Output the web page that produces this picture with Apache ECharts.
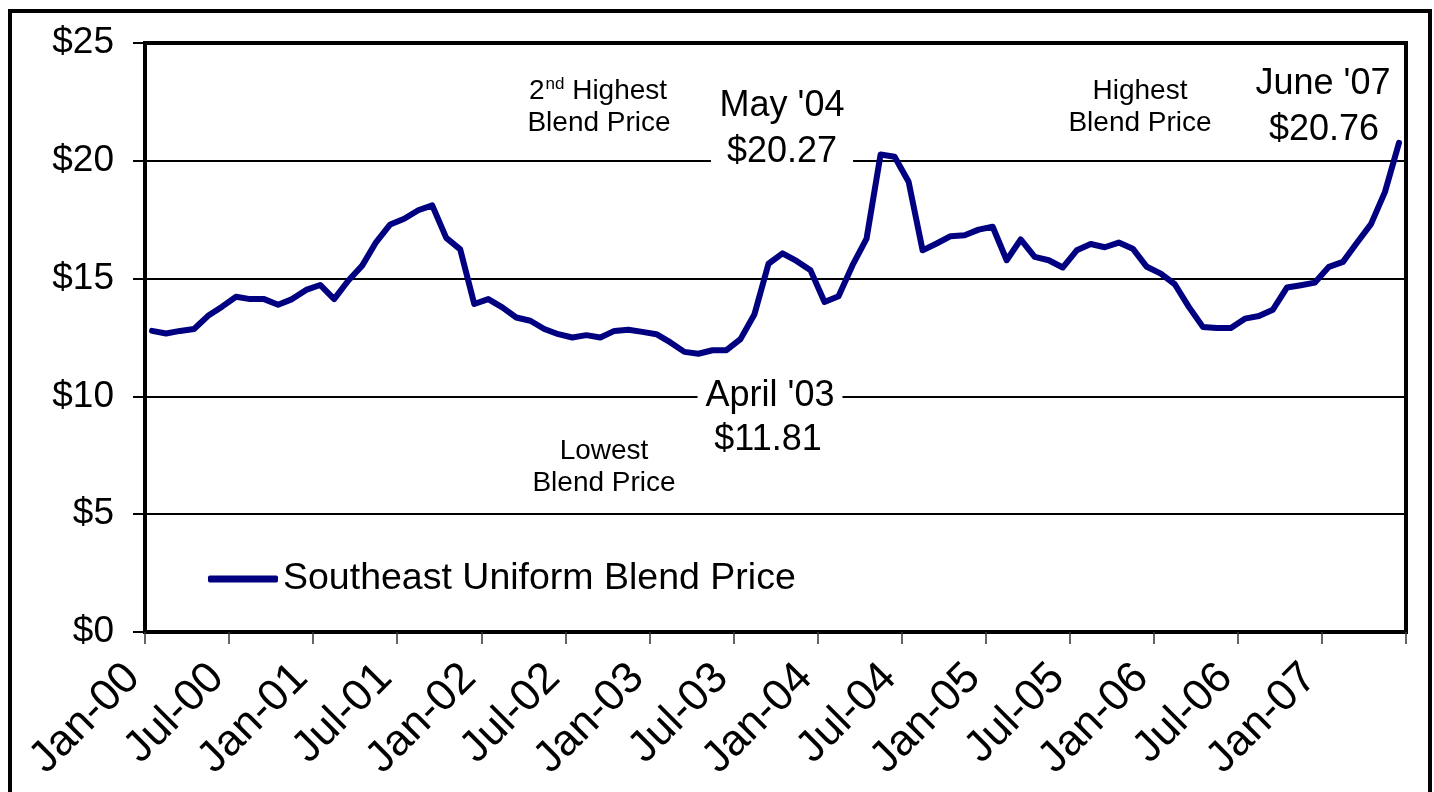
<!DOCTYPE html>
<html>
<head>
<meta charset="utf-8">
<script src="https://cdn.jsdelivr.net/npm/echarts@6/dist/echarts.min.js"></script>
<style>
html,body{margin:0;padding:0;background:#fff;}
#chart{width:1434px;height:792px;}
</style>
</head>
<body>
<div id="chart"></div>
<script>
// ---- data ----
const months = [
 "Jan-00","Feb-00","Mar-00","Apr-00","May-00","Jun-00","Jul-00","Aug-00","Sep-00","Oct-00","Nov-00","Dec-00",
 "Jan-01","Feb-01","Mar-01","Apr-01","May-01","Jun-01","Jul-01","Aug-01","Sep-01","Oct-01","Nov-01","Dec-01",
 "Jan-02","Feb-02","Mar-02","Apr-02","May-02","Jun-02","Jul-02","Aug-02","Sep-02","Oct-02","Nov-02","Dec-02",
 "Jan-03","Feb-03","Mar-03","Apr-03","May-03","Jun-03","Jul-03","Aug-03","Sep-03","Oct-03","Nov-03","Dec-03",
 "Jan-04","Feb-04","Mar-04","Apr-04","May-04","Jun-04","Jul-04","Aug-04","Sep-04","Oct-04","Nov-04","Dec-04",
 "Jan-05","Feb-05","Mar-05","Apr-05","May-05","Jun-05","Jul-05","Aug-05","Sep-05","Oct-05","Nov-05","Dec-05",
 "Jan-06","Feb-06","Mar-06","Apr-06","May-06","Jun-06","Jul-06","Aug-06","Sep-06","Oct-06","Nov-06","Dec-06",
 "Jan-07","Feb-07","Mar-07","Apr-07","May-07","Jun-07"
];
const blendPrice = [
 12.78,12.67,12.78,12.86,13.42,13.81,14.23,14.13,14.13,13.89,14.13,14.52,
 14.73,14.13,14.91,15.55,16.55,17.30,17.54,17.90,18.11,16.73,16.24,13.92,
 14.13,13.78,13.35,13.21,12.86,12.64,12.50,12.60,12.50,12.78,12.83,12.74,
 12.64,12.29,11.89,11.81,11.96,11.96,12.43,13.49,15.63,16.07,15.75,15.35,
 14.01,14.25,15.57,16.70,20.27,20.17,19.11,16.20,16.49,16.80,16.84,17.08,
 17.20,15.78,16.66,15.92,15.78,15.47,16.20,16.47,16.33,16.53,16.27,15.50,
 15.21,14.76,13.80,12.95,12.90,12.90,13.30,13.41,13.68,14.62,14.72,14.83,
 15.50,15.71,16.52,17.31,18.68,20.76
];
const seriesName = "Southeast Uniform Blend Price";
const yTicks = [0,5,10,15,20,25];
const noteSecondHighest = ["2", "nd", " Highest", "Blend Price"];
const noteMay04 = ["May '04", "$20.27"];
const noteHighest = ["Highest", "Blend Price"];
const noteJune07 = ["June '07", "$20.76"];
const noteApril03 = ["April '03", "$11.81"];
const noteLowest = ["Lowest", "Blend Price"];

// ---- chart ----
const FONT = 'Arial, "Liberation Sans", sans-serif';
const chart = echarts.init(document.getElementById('chart'), null, {renderer:'canvas'});

function txt(x, y, text, size, opts) {
  return Object.assign({
    type: 'text', z: 100,
    style: Object.assign({
      x: x, y: y, text: text, fill: '#000',
      font: size + 'px ' + FONT,
      textAlign: 'center', textVerticalAlign: 'middle'
    }, (opts && opts.style) || {})
  }, (opts && opts.el) || {});
}

const option = {
  backgroundColor: '#fff',
  animation: false,
  grid: {
    left: 145, right: 28, top: 43, bottom: 160,
    show: true, borderColor: '#000', borderWidth: 4, backgroundColor: 'transparent'
  },
  legend: {
    show: true,
    left: 208, top: 560,
    padding: 0,
    icon: 'roundRect',
    itemWidth: 70, itemHeight: 7,
    itemGap: 5,
    textStyle: { fontSize: 37.5, color: '#000', fontFamily: FONT },
    data: [seriesName]
  },
  xAxis: {
    type: 'category',
    data: months,
    boundaryGap: true,
    axisLine: { lineStyle: { color: '#000', width: 4 } },
    axisTick: { show: true, interval: 5, length: 12, lineStyle: { color: '#333', width: 1.5 } },
    axisLabel: {
      interval: 5, rotate: 45, margin: 20,
      padding: [0, 27, 0, 0],
      fontSize: 44, color: '#000', fontFamily: FONT
    },
    splitLine: { show: false }
  },
  yAxis: {
    type: 'value',
    min: yTicks[0], max: yTicks[yTicks.length - 1], interval: 5,
    axisLine: { show: true, lineStyle: { color: '#000', width: 4 } },
    axisTick: { show: true, length: 12, lineStyle: { color: '#000', width: 2 } },
    axisLabel: {
      margin: 31, fontSize: 37, color: '#000', fontFamily: FONT,
      formatter: v => '$' + v
    },
    splitLine: { show: true, lineStyle: { color: '#000', width: 2 } }
  },
  series: [{
    name: seriesName,
    type: 'line',
    data: blendPrice,
    symbol: 'none',
    smooth: false,
    lineStyle: { color: '#000080', width: 6, cap: 'round', join: 'round' },
    itemStyle: { color: '#000080' },
    z: 5
  }],
  graphic: [
    // outer frame
    { type: 'rect', z: 1, shape: { x: 10, y: 11, width: 1420, height: 800 },
      style: { fill: 'none', stroke: '#000', lineWidth: 4 } },
    // 2nd Highest Blend Price
    { type: 'text', z: 100, style: {
        x: 598, y: 91, fill: '#000', textAlign: 'center', textVerticalAlign: 'middle',
        text: '{a|' + noteSecondHighest[0] + '}{s|' + noteSecondHighest[1] + '}{a|' + noteSecondHighest[2] + '}',
        rich: {
          a: { fontSize: 28, fontFamily: FONT, fill: '#000', lineHeight: 30 },
          s: { fontSize: 17, fontFamily: FONT, fill: '#000', lineHeight: 30, verticalAlign: 'top', padding: [0,0,0,1] }
        }
      } },
    txt(599, 123, noteSecondHighest[3], 28),
    // May '04
    txt(782, 106, noteMay04[0], 36),
    txt(782, 152, noteMay04[1], 36, { style: { backgroundColor: '#fff', padding: [2, 16, 2, 16] } }),
    // Highest
    txt(1140, 91, noteHighest[0], 28),
    txt(1140, 123, noteHighest[1], 28),
    // June '07
    txt(1323, 84, noteJune07[0], 36),
    txt(1324, 130, noteJune07[1], 36),
    // April '03
    txt(770, 396, noteApril03[0], 36, { style: { backgroundColor: '#fff', padding: [2, 8, 2, 8] } }),
    txt(768, 440, noteApril03[1], 36),
    // Lowest
    txt(604, 451, noteLowest[0], 28),
    txt(604, 483, noteLowest[1], 28)
  ]
};
chart.setOption(option);
</script>
</body>
</html>
